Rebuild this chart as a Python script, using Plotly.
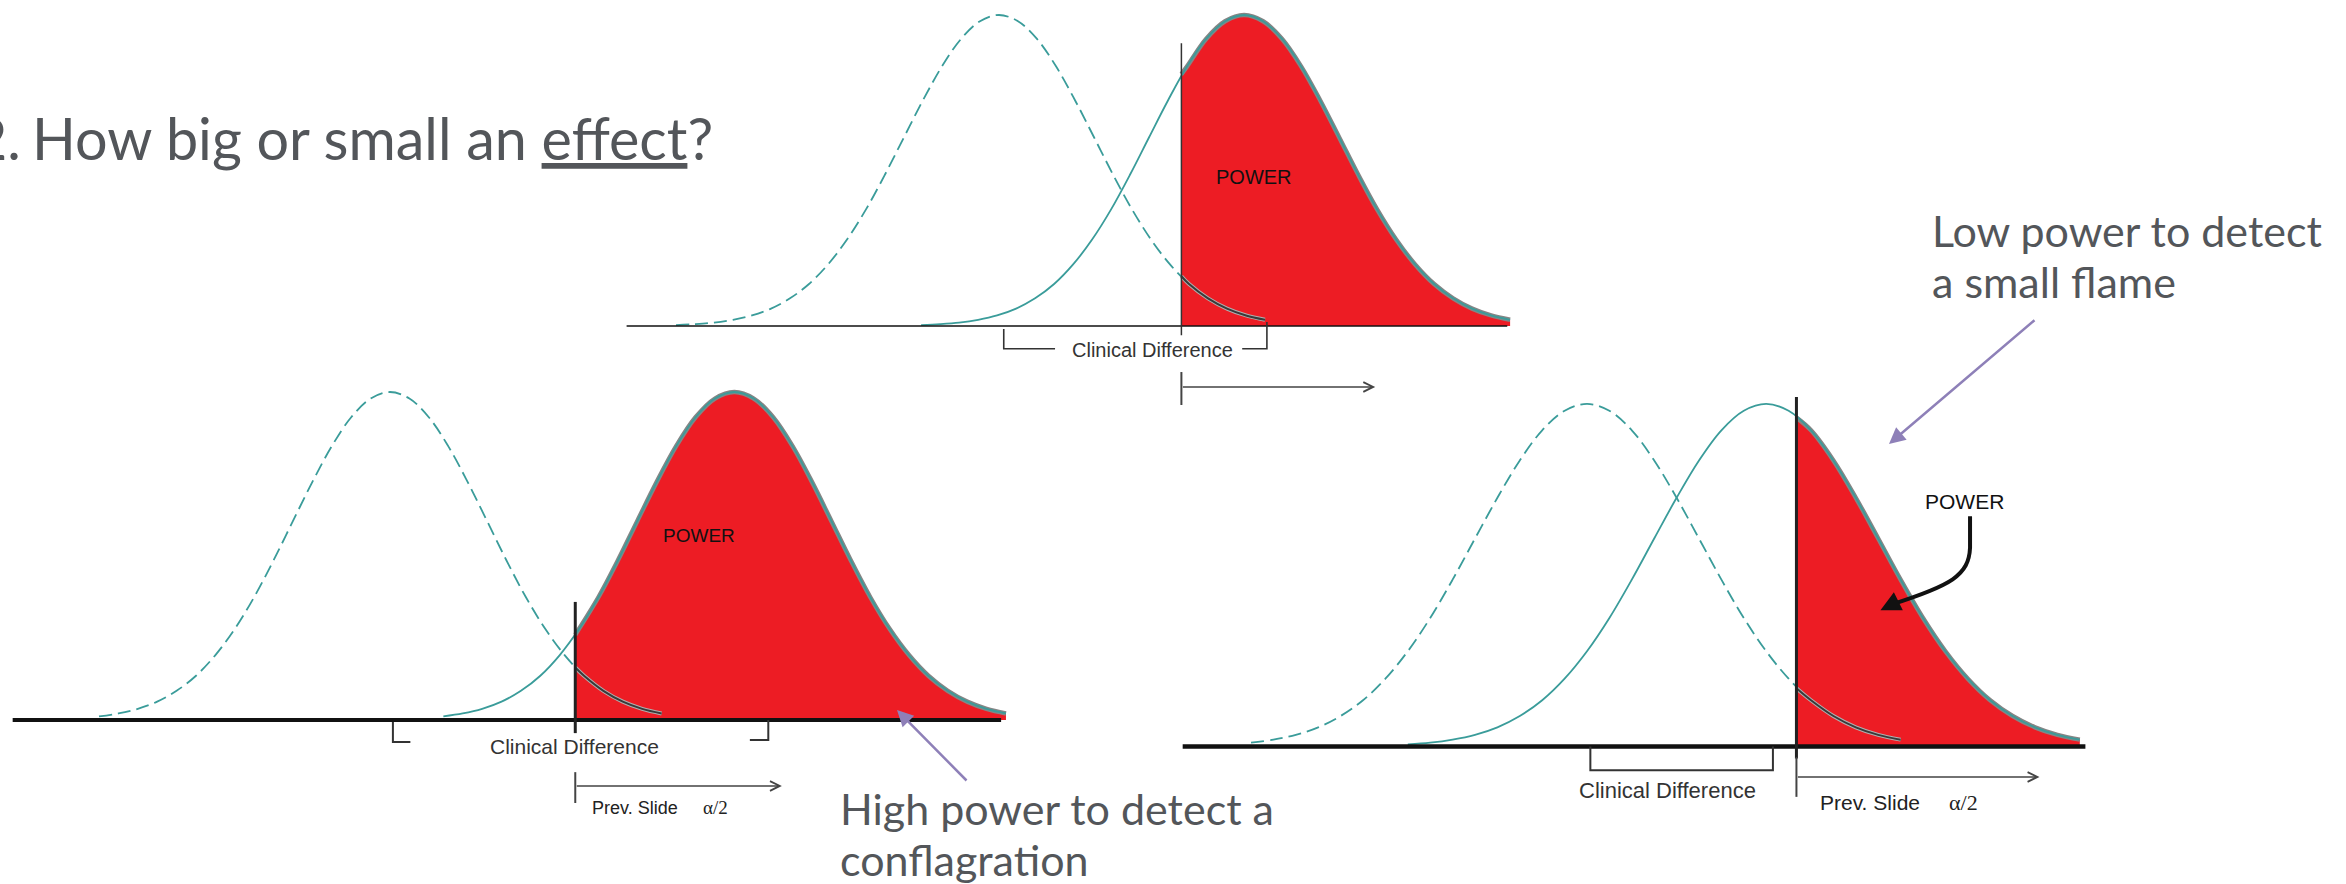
import plotly.graph_objects as go

# ------------------------------------------------------------------
# DATA
# ------------------------------------------------------------------
# bell profile: offsets in SD units and relative heights (peak = 1)
bell_offsets = [-3.4, -3.2, -3.0, -2.8, -2.6, -2.4, -2.2, -2.0, -1.8, -1.6, -1.4,
                -1.2, -1.0, -0.8, -0.6, -0.4, -0.2, 0.0, 0.2, 0.4, 0.6, 0.8, 1.0,
                1.2, 1.4, 1.6, 1.8, 2.0, 2.2, 2.4, 2.6, 2.8, 3.0, 3.2, 3.4]
bell_heights = [0.003, 0.006, 0.011, 0.020, 0.034, 0.056, 0.089, 0.135, 0.198, 0.278,
                0.375, 0.487, 0.607, 0.726, 0.835, 0.923, 0.980, 1.000, 0.980, 0.923,
                0.835, 0.726, 0.607, 0.487, 0.375, 0.278, 0.198, 0.135, 0.089, 0.056,
                0.034, 0.020, 0.011, 0.006, 0.003]

panels = ["top", "lower_left", "lower_right"]
null_means = [0.0, 0.0, 0.0]          # dashed curve centre (SD units)
alt_means = [2.58, 3.55, 1.60]        # solid curve centre (SD units)
cutoffs = [1.92, 1.91, 1.87]          # critical value (vertical line)
null_extent = [(-3.4, 2.8), (-3.0, 2.8), (-3.0, 2.8)]
alt_extent = [(-3.4, 2.8), (-3.0, 2.8), (-3.2, 2.8)]
null_height_at_cut = [0.16, 0.16, 0.17]
alt_height_at_cut = [0.81, 0.26, 0.96]
baseline_span = [(-3.92, 5.35), (-3.89, 6.30), (-3.61, 4.45)]

title_num = "2."
title_text = "How big or small an <u>effect</u>?"
high_lines = ["High power to detect a", "conflagration"]
low_lines = ["Low power to detect", "a small flame"]
power_label = "POWER"
clin_label = "Clinical Difference"
prev_label = "Prev. Slide"
alpha_label = "α/2"

# ------------------------------------------------------------------
# LAYOUT / STYLE
# ------------------------------------------------------------------
W, H = 2346, 884
RED = "#ED1C24"
TEAL = "#3a9c9a"
GREY_TXT = "#53565A"
PURPLE = "#8E80B8"
ARIAL = "Liberation Sans, Arial, sans-serif"
CAL = "Lato, Calibri, sans-serif"

# per panel: pixel position of null mean (x0), baseline (y0), px per SD, px per unit height, box
geom = [
    dict(x0=999, y0=326, ux=95.0, uy=311.0, box=(600, 1530, 0, 430)),
    dict(x0=390, y0=720, ux=97.0, uy=328.0, box=(0, 1020, 370, 884)),
    dict(x0=1587, y0=746.5, ux=112.0, uy=342.6, box=(1150, 2346, 370, 884)),
]
base_width = [1.6, 4.0, 4.5]
cut_top = [0.909, 0.36, 1.02]
cut_bot = [-0.03, -0.04, -0.035]
cut_width = [1.5, 3.0, 3.0]
power_pos = [(2.68, 0.479), (3.19, 0.561), (3.37, 0.714)]
power_size = [20, 19, 21]
clin_pos = [(1.62, -0.077), (1.90, -0.082), (0.72, -0.127)]
clin_size = [20, 21, 22]
bracket_paths = [
    ["M 0.05,-0.01 L 0.05,-0.073 L 0.59,-0.073", "M 2.56,-0.073 L 2.82,-0.073 L 2.82,0.013"],
    ["M 0.03,-0.006 L 0.03,-0.067 L 0.21,-0.067", "M 3.71,-0.061 L 3.90,-0.061 L 3.90,0.0"],
    ["M 0.03,0.0 L 0.03,-0.069 L 1.66,-0.069 L 1.66,0.0"],
]
tick_span = [(-0.148, -0.254), (-0.159, -0.253), (-0.031, -0.147)]
arrow_y = [-0.196, -0.201, -0.089]
arrow_end = [3.96, 4.04, 4.04]
prev_pos = [None, (2.06, -0.268), (2.06, -0.162)]
alpha_x = [None, 3.36, 3.36]
prev_size = [None, 18, 21]

fig = go.Figure()
layout_axes = {}
shapes = []
annotations = []


def sel(mean, ext, lo=None, hi=None):
    xs, ys = [], []
    for o, h in zip(bell_offsets, bell_heights):
        if ext[0] - 1e-9 <= o <= ext[1] + 1e-9:
            x = mean + o
            if lo is not None and x <= lo:
                continue
            if hi is not None and x >= hi:
                continue
            xs.append(x)
            ys.append(h)
    return xs, ys


for i, g in enumerate(geom):
    sfx = "" if i == 0 else str(i + 1)
    xa, ya = "x" + sfx, "y" + sfx
    bl, br, bt, bb = g["box"]
    layout_axes["xaxis" + sfx] = dict(
        domain=[bl / W, br / W],
        range=[(bl - g["x0"]) / g["ux"], (br - g["x0"]) / g["ux"]],
        visible=False, fixedrange=True, anchor=ya)
    layout_axes["yaxis" + sfx] = dict(
        domain=[1 - bb / H, 1 - bt / H],
        range=[(g["y0"] - bb) / g["uy"], (g["y0"] - bt) / g["uy"]],
        visible=False, fixedrange=True, anchor=xa)

    c = cutoffs[i]
    nx, ny = sel(null_means[i], null_extent[i])
    axx, axy = sel(alt_means[i], alt_extent[i])
    # red power area
    rx, ry = sel(alt_means[i], alt_extent[i], lo=c + 0.04)
    rx = [c] + rx
    ry = [alt_height_at_cut[i]] + ry
    fig.add_trace(go.Scatter(x=rx, y=ry, xaxis=xa, yaxis=ya, mode="lines",
                             line=dict(width=0, shape="spline", color=RED),
                             fill="tozeroy", fillcolor=RED, hoverinfo="skip"))
    # null curve dashed
    fig.add_trace(go.Scatter(x=nx, y=ny, xaxis=xa, yaxis=ya, mode="lines",
                             line=dict(width=1.8, shape="spline", color=TEAL, dash="13px,6px"),
                             hoverinfo="skip"))
    # null tail inside red
    tx, ty = sel(null_means[i], null_extent[i], lo=c + 0.04)
    tx = [c] + tx
    ty = [null_height_at_cut[i]] + ty
    fig.add_trace(go.Scatter(x=tx, y=ty, xaxis=xa, yaxis=ya, mode="lines",
                             line=dict(width=4, shape="spline", color="#b0b0b0"),
                             hoverinfo="skip"))
    fig.add_trace(go.Scatter(x=tx, y=ty, xaxis=xa, yaxis=ya, mode="lines",
                             line=dict(width=2, shape="spline", color="#3a3a3a"),
                             hoverinfo="skip"))
    # alt curve: grey outline over red part, then teal line
    fig.add_trace(go.Scatter(x=rx, y=ry, xaxis=xa, yaxis=ya, mode="lines",
                             line=dict(width=4.5, shape="spline", color="#858585"),
                             hoverinfo="skip"))
    fig.add_trace(go.Scatter(x=axx, y=axy, xaxis=xa, yaxis=ya, mode="lines",
                             line=dict(width=1.8, shape="spline", color=TEAL),
                             hoverinfo="skip"))

    # baseline
    shapes.append(dict(type="line", xref=xa, yref=ya, x0=baseline_span[i][0], x1=baseline_span[i][1],
                       y0=0, y1=0, line=dict(color="#111", width=base_width[i]), layer="above"))
    # cutoff line
    shapes.append(dict(type="line", xref=xa, yref=ya, x0=c, x1=c, y0=cut_bot[i], y1=cut_top[i],
                       line=dict(color="#222" if i else "#333", width=cut_width[i]), layer="above"))
    # brackets
    for pth in bracket_paths[i]:
        shapes.append(dict(type="path", xref=xa, yref=ya, path=pth,
                           line=dict(color="#333", width=2 if i else 1.6), layer="above"))
    # tick + arrow
    shapes.append(dict(type="line", xref=xa, yref=ya, x0=c, x1=c, y0=tick_span[i][0], y1=tick_span[i][1],
                       line=dict(color="#444", width=2), layer="above"))
    annotations.append(dict(xref=xa, yref=ya, axref=xa, ayref=ya, x=arrow_end[i], y=arrow_y[i],
                            ax=c, ay=arrow_y[i], text="", showarrow=True, arrowhead=5,
                            arrowsize=1.2, arrowwidth=1.6, arrowcolor="#444"))
    # labels
    annotations.append(dict(xref=xa, yref=ya, x=power_pos[i][0], y=power_pos[i][1], text=power_label,
                            showarrow=False, font=dict(family=ARIAL, size=power_size[i], color="#111")))
    annotations.append(dict(xref=xa, yref=ya, x=clin_pos[i][0], y=clin_pos[i][1], text=clin_label,
                            showarrow=False,
                            font=dict(family=ARIAL, size=clin_size[i], color="#333")))
    if prev_pos[i] is not None:
        annotations.append(dict(xref=xa, yref=ya, x=prev_pos[i][0], y=prev_pos[i][1], text=prev_label,
                                xanchor="left", showarrow=False,
                                font=dict(family=ARIAL, size=prev_size[i], color="#222")))
        annotations.append(dict(xref=xa, yref=ya, x=alpha_x[i], y=prev_pos[i][1], text=alpha_label,
                                showarrow=False,
                                font=dict(family="Liberation Serif, serif", size=prev_size[i] + 1, color="#222")))

# curved black pointer in lower-right panel
shapes.append(dict(type="path", xref="x3", yref="y3",
                   path="M 3.42,0.672 L 3.42,0.58 C 3.41,0.50 3.25,0.47 2.72,0.415",
                   line=dict(color="#111", width=4), layer="above"))
annotations.append(dict(xref="x3", yref="y3", axref="x3", ayref="y3", x=2.62, y=0.398,
                        ax=2.78, ay=0.424, text="", showarrow=True, arrowhead=2,
                        arrowsize=1.0, arrowwidth=4, arrowcolor="#111"))


def ptext(px, py_mid, txt, size, anchor="left"):
    annotations.append(dict(xref="paper", yref="paper", x=px / W, y=1 - py_mid / H, text=txt,
                            xanchor=anchor, yanchor="middle", showarrow=False,
                            font=dict(family=CAL, size=size, color=GREY_TXT)))


# slide texts (paper coordinates; y given as middle of the text line)
ptext(23, 137, title_num, 57.5, anchor="right")
ptext(30, 137, title_text, 57.5)
ptext(838, 808, high_lines[0], 43)
ptext(838, 859, high_lines[1], 43)
ptext(1930, 231, low_lines[0], 43)
ptext(1930, 281, low_lines[1], 43)

# purple pointer arrows
annotations.append(dict(xref="paper", yref="paper", x=897 / W, y=1 - 710 / H, ax=71, ay=72,
                        text="", showarrow=True, arrowhead=2, arrowsize=1.3, arrowwidth=2.5,
                        arrowcolor=PURPLE))
annotations.append(dict(xref="paper", yref="paper", x=1889 / W, y=1 - 444 / H, ax=147, ay=-125,
                        text="", showarrow=True, arrowhead=2, arrowsize=1.3, arrowwidth=2.5,
                        arrowcolor=PURPLE))

fig.update_layout(
    width=W, height=H, margin=dict(l=0, r=0, t=0, b=0),
    paper_bgcolor="white", plot_bgcolor="rgba(0,0,0,0)",
    showlegend=False, shapes=shapes, annotations=annotations,
    **layout_axes,
)
fig.write_html("out.html", config={"displayModeBar": False},
               post_script="document.body.style.margin='0px';document.body.style.overflow='hidden';")
